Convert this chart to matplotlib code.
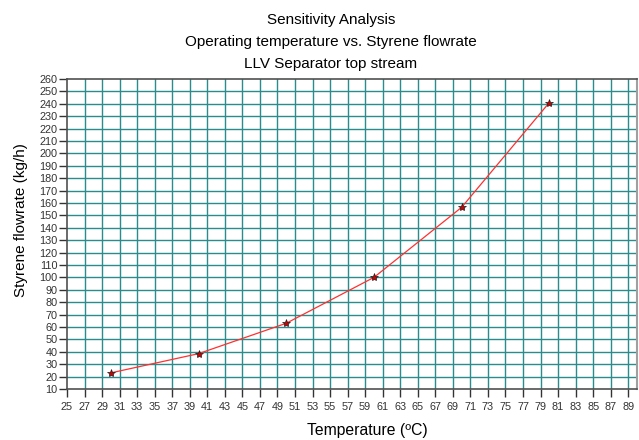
import matplotlib
matplotlib.use("Agg")
import matplotlib.pyplot as plt
import numpy as np

# sensitivity results: top-stream styrene flow vs. operating temperature
temperature = [30, 40, 50, 60, 70, 80]
styrene_flow = [23, 38.5, 63, 100, 156.5, 241]

x_ticks = list(range(25, 90, 2))
y_ticks = list(range(10, 261, 10))

plt.rcParams['font.family'] = ['Liberation Sans', 'DejaVu Sans']

fig = plt.figure(figsize=(6.39, 4.40), dpi=100)
ax = fig.add_axes([67 / 639, 51 / 440, 570 / 639, 310 / 440])

grid_color = '#2a8c8c'
for xv in x_ticks[1:]:
    ax.axvline(xv, color=grid_color, lw=1.0, zorder=1)
for yv in y_ticks[1:-1]:
    ax.axhline(yv, color=grid_color, lw=1.0, zorder=1)

ax.plot(temperature, styrene_flow, color='#ff3030', lw=0.9, zorder=3)
ax.plot(temperature, styrene_flow, ls='none', marker='*', ms=6,
        mfc='#d00000', mec='#202020', mew=0.5, zorder=4)

ax.set_xlim(25, 90)
ax.set_ylim(10, 260)
ax.set_xticks(x_ticks)
ax.set_yticks(y_ticks)

tick_font = ['Liberation Sans Narrow', 'Liberation Sans', 'DejaVu Sans']
for lab in ax.get_xticklabels() + ax.get_yticklabels():
    lab.set_family(tick_font)
ax.tick_params(axis='both', labelsize=7.8, colors='#333333',
               direction='out', length=6, width=1.0)
ax.tick_params(axis='x', pad=3)
ax.tick_params(axis='y', pad=1)

for side in ['left', 'bottom', 'top']:
    ax.spines[side].set_color('#505050')
    ax.spines[side].set_linewidth(1.2)
ax.spines['right'].set_color('#a0a0a0')
ax.spines['right'].set_linewidth(1.5)

title_x = 331 / 639
fig.text(title_x, 1 - 20 / 440, 'Sensitivity Analysis', ha='center', va='center', fontsize=11)
fig.text(title_x, 1 - 42 / 440, 'Operating temperature vs. Styrene flowrate', ha='center', va='center', fontsize=11)
fig.text(title_x, 1 - 64 / 440, 'LLV Separator top stream', ha='center', va='center', fontsize=11)

fig.text(21 / 639, 1 - 220 / 440, 'Styrene flowrate (kg/h)', rotation=90,
         ha='center', va='center', fontsize=11)
fig.text(367 / 639, 1 - 430 / 440, 'Temperature (ºC)', ha='center', va='center', fontsize=11.3)

fig.savefig('out.png', dpi=100)
